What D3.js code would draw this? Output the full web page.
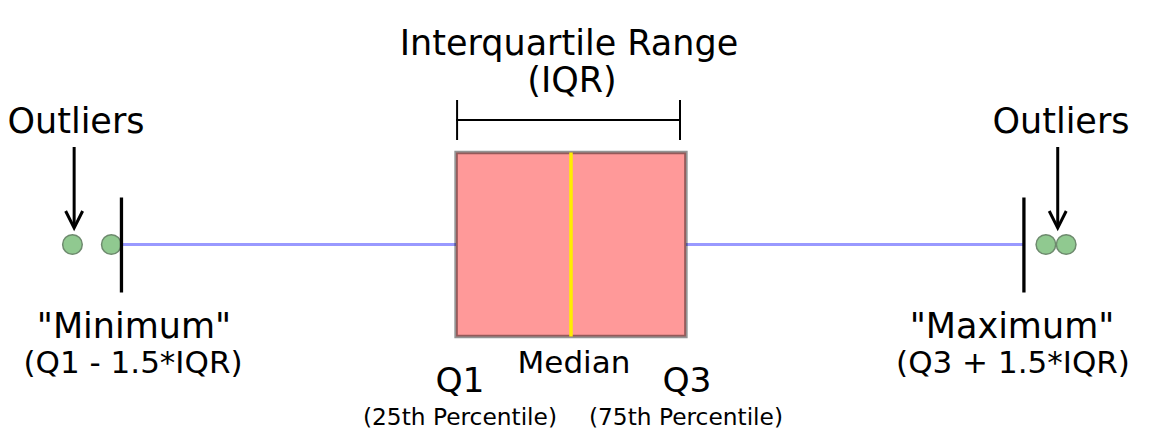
<!DOCTYPE html>
<html>
<head>
<meta charset="utf-8">
<script src="https://cdn.jsdelivr.net/npm/d3@7"></script>
<style>
  html, body { margin: 0; padding: 0; background: #fff; }
  svg { display: block; }
  text { font-family: "DejaVu Sans", sans-serif; fill: #000; }
</style>
</head>
<body>
<svg id="chart" width="1161" height="445"></svg>
<script>
// ---- data (values in arbitrary units) ----
const statNames  = ["min", "q1", "median", "q3", "max"];
const statValues = [-2.66, -0.68, 0, 0.68, 2.68];
const outlierValues = [-2.95, -2.72, 2.81, 2.93];
const arrowTargets = [-2.94, 2.88];   // where the "Outliers" arrows point
const domainExtent = [-3, 3];

const stat = {};
statNames.forEach((n, i) => stat[n] = statValues[i]);

const svg = d3.select("#chart");
const x = d3.scaleLinear().domain(domainExtent).range([64, 1078]);
const cy = 244.5;

// whiskers (blue)
svg.append("line")
  .attr("x1", x(stat.min)).attr("x2", x(stat.q1))
  .attr("y1", cy).attr("y2", cy)
  .attr("stroke", "#9999ff").attr("stroke-width", 3);
svg.append("line")
  .attr("x1", x(stat.q3)).attr("x2", x(stat.max))
  .attr("y1", cy).attr("y2", cy)
  .attr("stroke", "#9999ff").attr("stroke-width", 3);

// box
svg.append("rect")
  .attr("x", x(stat.q1)).attr("y", cy - 92)
  .attr("width", x(stat.q3) - x(stat.q1)).attr("height", 184)
  .attr("fill", "#ff9999")
  .attr("stroke", "rgba(0,0,0,0.42)").attr("stroke-width", 3.5);

// median
svg.append("line")
  .attr("x1", x(stat.median)).attr("x2", x(stat.median))
  .attr("y1", cy - 92).attr("y2", cy + 92)
  .attr("stroke", "#ffee00").attr("stroke-width", 3.5);

// outliers
svg.selectAll("circle.out").data(outlierValues).join("circle")
  .attr("class", "out")
  .attr("cx", d => x(d)).attr("cy", cy).attr("r", 9.8)
  .attr("fill", "#90c990").attr("stroke", "#6e8a6e").attr("stroke-width", 1.5);

// min / max caps
[stat.min, stat.max].forEach(v => {
  svg.append("line")
    .attr("x1", x(v)).attr("x2", x(v))
    .attr("y1", cy - 47).attr("y2", cy + 48)
    .attr("stroke", "#000").attr("stroke-width", 3.3);
});

// IQR bracket
const by = 120;
svg.append("line").attr("x1", x(stat.q1)).attr("x2", 680)
  .attr("y1", by).attr("y2", by).attr("stroke", "#000").attr("stroke-width", 2);
[x(stat.q1) + 1, 680].forEach(px => {
  svg.append("line").attr("x1", px).attr("x2", px)
    .attr("y1", by - 20).attr("y2", by + 20).attr("stroke", "#000").attr("stroke-width", 2);
});

// arrows
arrowTargets.forEach(v => {
  const ax = x(v);
  svg.append("line").attr("x1", ax).attr("x2", ax)
    .attr("y1", 147).attr("y2", 227).attr("stroke", "#000").attr("stroke-width", 3);
  svg.append("path")
    .attr("d", `M${ax - 8.5},${211} L${ax},${228} L${ax + 8.5},${211}`)
    .attr("fill", "none").attr("stroke", "#000").attr("stroke-width", 3)
    .attr("stroke-linejoin", "miter");
});

// text labels
const labels = [
  { t: "Interquartile Range", x: 569, y: 55, s: 35 },
  { t: "(IQR)", x: 572, y: 92, s: 35 },
  { t: "Outliers", x: 76, y: 133, s: 35 },
  { t: "Outliers", x: 1061, y: 133, s: 35 },
  { t: "\"Minimum\"", x: 134, y: 338, s: 35 },
  { t: "(Q1 - 1.5*IQR)", x: 133, y: 373, s: 31 },
  { t: "\"Maximum\"", x: 1012, y: 338, s: 35 },
  { t: "(Q3 + 1.5*IQR)", x: 1013, y: 373, s: 31 },
  { t: "Q1", x: 460, y: 392, s: 34.5 },
  { t: "Median", x: 574, y: 373, s: 31 },
  { t: "Q3", x: 687, y: 392, s: 34.5 },
  { t: "(25th Percentile)", x: 460, y: 425, s: 23.3 },
  { t: "(75th Percentile)", x: 686, y: 425, s: 23.3 }
];
svg.selectAll("text.lbl").data(labels).join("text")
  .attr("class", "lbl")
  .attr("x", d => d.x).attr("y", d => d.y)
  .attr("text-anchor", "middle")
  .attr("font-size", d => d.s)
  .text(d => d.t);
</script>
</body>
</html>
